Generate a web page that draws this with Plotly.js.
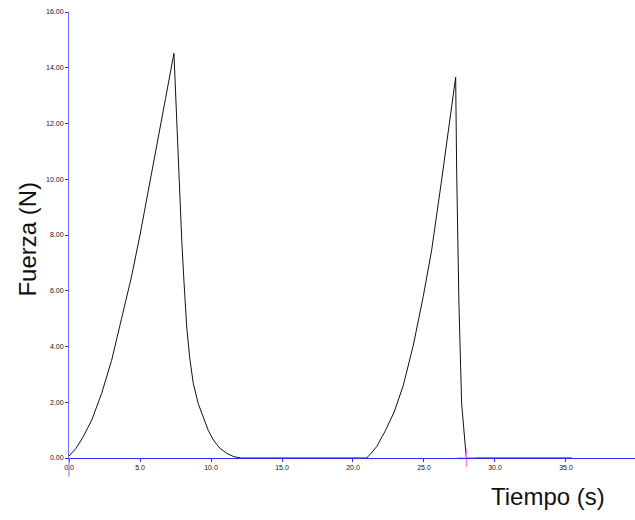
<!DOCTYPE html>
<html>
<head>
<meta charset="utf-8">
<script src="https://cdn.plot.ly/plotly-3.0.1.min.js"></script>
<style>html,body{margin:0;padding:0;background:#fff;}#chart{width:635px;height:520px;}</style>
</head>
<body>
<div id="chart"></div>
<script>
// Time (s) and force (N)
const tiempo = [0, 0.5, 1.0, 1.6, 2.3, 3.0, 3.7, 4.0, 4.4, 5.0, 5.6, 6.2, 6.8, 7.39,
                7.55, 7.70, 7.94, 8.1, 8.29, 8.5, 8.75, 9.1, 9.46, 9.8, 10.16, 10.6, 11.1, 11.6, 12.1,
                20.96, 21.3, 21.67, 22.25, 22.9, 23.54, 24.25, 24.95, 25.54, 26.25, 26.83, 27.23,
                27.30, 27.46, 27.65, 27.89, 27.98, 35.4];
const fuerza = [0.07, 0.35, 0.76, 1.36, 2.32, 3.5, 5.0, 5.65, 6.5, 8.0, 9.6, 11.25, 12.9, 14.52,
                12.4, 10.7, 7.8, 6.3, 4.7, 3.6, 2.68, 1.95, 1.45, 1.0, 0.65, 0.36, 0.17, 0.05, 0,
                0, 0.18, 0.41, 0.95, 1.65, 2.6, 4.05, 5.8, 7.46, 10.0, 12.2, 13.66,
                10.33, 5.55, 1.96, 0.41, 0, 0];
const cursorT = [28.0];
const cursorF = [0];
const yTicks = [0, 2, 4, 6, 8, 10, 12, 14, 16];
const yTickText = ["0.00", "2.00", "4.00", "6.00", "8.00", "10.00", "12.00", "14.00", "16.00"];
const xTicks = [0, 5, 10, 15, 20, 25, 30, 35, 40];
const xTickText = ["0.0", "5.0", "10.0", "15.0", "20.0", "25.0", "30.0", "35.0", "40.0"];

const traces = [
  {x: tiempo, y: fuerza, type: 'scatter', mode: 'lines',
   line: {color: '#111111', width: 1}, hoverinfo: 'skip', cliponaxis: false},
  {x: cursorT, y: cursorF, type: 'scatter', mode: 'markers',
   marker: {symbol: 'cross-thin', size: 13, line: {color: '#ff80ff', width: 1.5}}, cliponaxis: false}
];

const layout = {
  width: 635, height: 520,
  margin: {l: 69, r: 0, t: 12, b: 62},
  paper_bgcolor: '#ffffff', plot_bgcolor: '#ffffff',
  showlegend: false,
  font: {family: 'Liberation Sans, Arial, sans-serif', color: '#222'},
  xaxis: {
    range: [0, 39.86], showgrid: false, zeroline: false,
    showline: true, linecolor: '#2a2aff', linewidth: 1,
    tickmode: 'array', tickvals: xTicks, ticktext: xTickText,
    ticks: 'outside', ticklen: 3, tickcolor: '#2a2aff', tickwidth: 1,
    tickfont: {size: 7, color: '#111'}
  },
  yaxis: {
    range: [0, 16], showgrid: false, zeroline: false,
    showline: true, linecolor: '#7070ff', linewidth: 1,
    tickmode: 'array', tickvals: yTicks, ticktext: yTickText,
    ticks: 'outside', ticklen: 3, tickcolor: '#2a2aff', tickwidth: 1,
    tickfont: {size: 7, color: '#111'}
  },
  shapes: [
    {type: 'line', xref: 'paper', yref: 'paper', x0: 0, x1: 0, y0: 0, y1: -0.042,
     line: {color: '#7070ff', width: 1}}
  ],
  annotations: [
    {text: 'Fuerza (N)', xref: 'paper', yref: 'paper', x: -0.074, y: 0.49,
     xanchor: 'center', yanchor: 'middle', textangle: -90, showarrow: false,
     font: {size: 24, color: '#111', family: 'Liberation Sans, Arial, sans-serif'}},
    {text: 'Tiempo (s)', xref: 'paper', yref: 'paper', x: 0.846, y: -0.087,
     xanchor: 'center', yanchor: 'middle', showarrow: false,
     font: {size: 24, color: '#111', family: 'Liberation Sans, Arial, sans-serif'}}
  ]
};

Plotly.newPlot('chart', traces, layout, {displayModeBar: false, staticPlot: true});
</script>
</body>
</html>
